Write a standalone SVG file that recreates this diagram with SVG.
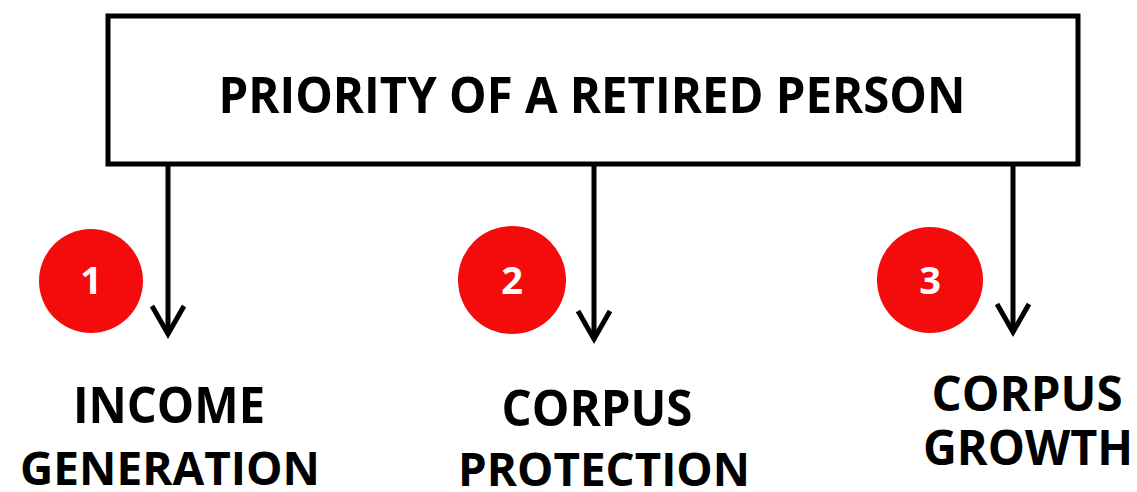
<svg xmlns="http://www.w3.org/2000/svg" width="1137" height="492" viewBox="0 0 1137 492">
<style>
.lbl{font-family:"Open Sans","Liberation Sans",sans-serif;font-weight:bold;fill:#000;text-anchor:middle}
.num{font-family:"Open Sans","Liberation Sans",sans-serif;font-weight:bold;fill:#fff;text-anchor:middle;font-size:38px}
.badge{fill:#f40c0c}
.conn{stroke:#000;stroke-width:5;fill:none}
.head{stroke:#000;stroke-width:5;fill:none;stroke-linejoin:miter}
</style>
<rect width="1137" height="492" fill="#fff"/>
<g id="title">
<rect x="108" y="16" width="970" height="148" fill="#fff" stroke="#000" stroke-width="5"/>
<text class="lbl" x="592" y="113" font-size="50" textLength="747" lengthAdjust="spacingAndGlyphs">PRIORITY OF A RETIRED PERSON</text>
</g>
<g id="connectors">
<line class="conn" x1="168" y1="164" x2="168" y2="333"/>
<polyline class="head" points="152,306 168,334 184,306"/>
<line class="conn" x1="594" y1="164" x2="594" y2="338"/>
<polyline class="head" points="578,311 594,339 610,311"/>
<line class="conn" x1="1013" y1="164" x2="1013" y2="331"/>
<polyline class="head" points="997,304 1013,332 1029,304"/>
</g>
<g id="badge1">
<circle class="badge" cx="91" cy="281" r="52"/>
<text class="num" x="91" y="294">1</text>
</g>
<g id="badge2">
<circle class="badge" cx="512" cy="280" r="54"/>
<text class="num" x="512" y="294">2</text>
</g>
<g id="badge3">
<circle class="badge" cx="930" cy="280" r="53"/>
<text class="num" x="930" y="294">3</text>
</g>
<g id="income">
<text class="lbl" x="169" y="423" font-size="50" textLength="192" lengthAdjust="spacingAndGlyphs">INCOME</text>
<text class="lbl" x="170" y="485" font-size="47" textLength="300" lengthAdjust="spacingAndGlyphs">GENERATION</text>
</g>
<g id="protection">
<text class="lbl" x="597" y="426" font-size="50" textLength="191" lengthAdjust="spacingAndGlyphs">CORPUS</text>
<text class="lbl" x="604" y="486" font-size="47" textLength="292" lengthAdjust="spacingAndGlyphs">PROTECTION</text>
</g>
<g id="growth">
<text class="lbl" x="1027" y="411" font-size="48" textLength="191" lengthAdjust="spacingAndGlyphs">CORPUS</text>
<text class="lbl" x="1028" y="465" font-size="48" textLength="210" lengthAdjust="spacingAndGlyphs">GROWTH</text>
</g>
</svg>
